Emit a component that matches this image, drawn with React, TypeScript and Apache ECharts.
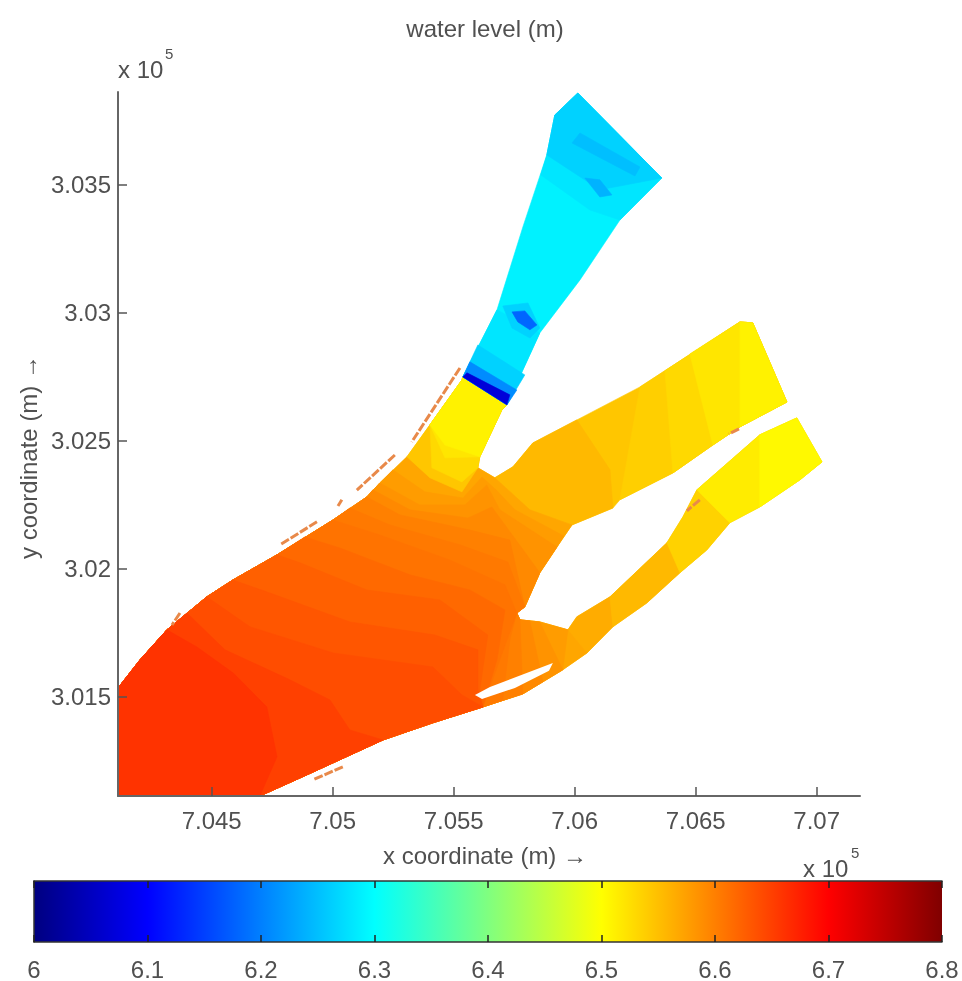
import React, { useEffect, useRef } from "react";
import * as echarts from "echarts";

const X_MIN = 704113;
const X_MAX = 707179;
const Y_MIN = 301113;
const Y_MAX = 303863;
const xTicks = [704500, 705000, 705500, 706000, 706500, 707000];
const yTicks = [301500, 302000, 302500, 303000, 303500];
const colorbarTicks = [6, 6.1, 6.2, 6.3, 6.4, 6.5, 6.6, 6.7, 6.8];
const colorbarRange = [6, 6.8];
const jetOffsets = [0, 0.125, 0.375, 0.625, 0.875, 1];
const jetColors = ["#000080", "#0000ff", "#00ffff", "#ffff00", "#ff0000", "#800000"];

// Wet-domain outline (x, y in metres)
const ring: number[][] = [
  [704113, 301113], [704113, 301535], [704204, 301645], [704315, 301762], [704480, 301891], [704588, 301957],
  [704770, 302055], [705001, 302191], [705141, 302281], [705195, 302336], [705307, 302438], [705402, 302563],
  [705534, 302738], [705538, 302750], [705679, 303012], [705786, 303336], [705885, 303617], [705918, 303773],
  [706013, 303859], [706360, 303527], [706187, 303363], [706022, 303129], [705856, 302922], [705720, 302641],
  [705699, 302621], [705608, 302438], [705600, 302395], [705670, 302356], [705745, 302399], [705827, 302492],
  [706009, 302582], [706270, 302711], [706683, 302965], [706736, 302961], [706877, 302652], [706683, 302555],
  [706571, 302484], [706406, 302375], [706187, 302270], [706158, 302238], [705989, 302172], [705927, 302086],
  [705856, 301985], [705794, 301852], [705761, 301828], [705774, 301801], [705856, 301793], [705972, 301762],
  [706009, 301813], [706146, 301891], [706381, 302102], [706447, 302203], [706505, 302309], [706765, 302524],
  [706918, 302590], [707022, 302418], [706931, 302348], [706765, 302242], [706641, 302180], [706546, 302074],
  [706435, 301985], [706298, 301867], [706158, 301774], [706051, 301672], [705951, 301606], [705786, 301512],
  [705621, 301461], [705414, 301399], [705208, 301332], [704894, 301196], [704699, 301113],
];

// Water-level zones, painted in order. Item [a, b] with a < 1000 is a span of the ring; otherwise a free point.
const zoneLevels = [
  6.545, 6.29,
  6.555, 6.5375, 6.53, 6.52, 6.51,
  6.565, 6.555, 6.535, 6.515, 6.505,
  6.57, 6.5775, 6.585, 6.5925, 6.6, 6.605, 6.61, 6.6175, 6.625, 6.6325, 6.64, 6.65, 6.66,
  6.545, 6.53, 6.52, 6.51,
  6.28, 6.28, 6.265, 6.25, 6.24, 6.265, 6.21, 6.07, 6.265, 6.18,
];
const zonePaths: number[][][] = [
  [[0, 13], [23, 70]],
  [[13, 23]],
  // upper arm
  [[27, 30], [706146, 302387], [39, 40], [705815, 302231]],
  [[31, 38]],
  [[706373, 302774], [32, 37]],
  [[706476, 302840], [32, 36]],
  [[32, 35]],
  // lower arm
  [[47, 49], [62, 63]],
  [[49, 50], [60, 62]],
  [[50, 52], [58, 60]],
  [[52, 58]],
  [[53, 57]],
  // delta, nested towards the south-west corner
  [[63, 10], [705402, 302356], [705534, 302301], [26, 27], [705815, 302231], [40, 47]],
  [[64, 9], [705249, 302387], [705381, 302301], [705538, 302277], [705617, 302359], [705675, 302309], [705753, 302231], [705955, 302129], [41, 47]],
  [[64, 9], [705360, 302250], [705546, 302250], [705637, 302328], [705691, 302231], [41, 46]],
  [[705869, 301559], [65, 8], [705166, 302309], [705319, 302231], [705559, 302199], [705658, 302242], [705712, 302172], [42, 45], [705815, 301797]],
  [[65, 8], [705278, 302211], [705567, 302152], [705732, 302113], [43, 45]],
  [[705703, 301488], [66, 7], [705071, 302238], [705236, 302172], [705526, 302094], [705724, 302027], [43, 44], [705732, 301723]],
  [[66, 7], [705195, 302133], [705484, 302035], [705712, 301938], [44, 44], [705691, 301645]],
  [[66, 6], [704885, 302125], [705030, 302082], [705319, 301977], [705567, 301918], [705712, 301840], [705679, 301645]],
  [[66, 6], [704865, 302024], [705141, 301918], [705443, 301879], [705641, 301742], [705608, 301528]],
  [[66, 5], [704761, 301899], [705071, 301793], [705422, 301742], [705600, 301684], [705600, 301528]],
  [[66, 4], [704658, 301774], [705001, 301672], [705414, 301617], [705534, 301508]],
  [[68, 3], [704398, 301828], [704555, 301684], [704823, 301567], [704989, 301488], [705071, 301371]],
  [[70, 3], [704439, 301695], [704588, 301594], [704728, 301461], [704770, 301266]],
  // throat
  [[10, 13], [23, 26], [705534, 302301], [705402, 302356]],
  [[11, 13], [23, 26], [705534, 302340], [705410, 302395]],
  [[11, 13], [23, 25], [705464, 302434]],
  [[11, 13], [23, 25], [705464, 302484]],
  // blue channel
  [[13, 14], [22, 23]],
  [[16, 20], [706063, 303402], [705860, 303539]],
  [[16, 19], [706104, 303481]],
  [[706022, 303703], [706270, 303570], [706249, 303535], [705989, 303664]],
  [[706042, 303527], [706104, 303520], [706154, 303461], [706104, 303453]],
  [[13, 13], [705600, 302875], [705794, 302758], [23, 23]],
  [[13, 13], [705567, 302809], [705761, 302699], [23, 23]],
  [[13, 13], [705555, 302766], [705732, 302680], [23, 23]],
  [[705703, 303027], [705807, 303039], [705856, 302941], [705815, 302902], [705741, 302941]],
  [[705741, 303004], [705794, 303008], [705844, 302953], [705815, 302934], [705765, 302965]],
];

// Dry island near the south shore
const island: number[][] = [
  [705588, 301508], [705650, 301539], [705910, 301633], [705894, 301602], [705753, 301535], [705617, 301492],
];

// Isolated wet cells along the shores: x1, y1, x2, y2
const slivers: number[][] = [
  [705526, 302785, 705327, 302496],
  [705257, 302445, 705100, 302308],
  [705038, 302270, 705022, 302246],
  [704935, 302184, 704782, 302094],
  [704369, 301828, 704336, 301781],
  [705042, 301227, 704918, 301176],
  [706679, 302547, 706637, 302527],
  [706517, 302270, 706464, 302227],
];

const expand = (path: number[][]) => {
  const out: number[][] = [];
  path.forEach(([a, b]) => {
    if (a > 1000) out.push([a, b]);
    else if (a <= b) out.push(...ring.slice(a, b + 1));
    else out.push(...ring.slice(a), ...ring.slice(0, b + 1));
  });
  return out;
};

const jet = (level: number) => {
  const t = (level - colorbarRange[0]) / (colorbarRange[1] - colorbarRange[0]);
  for (let i = 0; i < jetOffsets.length - 1; i++) {
    if (t <= jetOffsets[i + 1]) {
      const k = (t - jetOffsets[i]) / (jetOffsets[i + 1] - jetOffsets[i]);
      return echarts.color.lerp(k, [jetColors[i], jetColors[i + 1]]) as string;
    }
  }
  return jetColors[jetColors.length - 1];
};

const FONT = "'Liberation Sans', Arial, sans-serif";
const TEXT = "#505050";
const FS = 24;

const zonePolys = zonePaths.map(expand);

export default function App() {
  const ref = useRef<HTMLDivElement>(null);
  useEffect(() => {
    const chart = echarts.init(ref.current!, undefined, { renderer: "svg" });
    chart.setOption({
      animation: false,
      backgroundColor: "#fff",
      title: {
        text: "water level (m)",
        left: 480,
        top: 11,
        textAlign: "center",
        textStyle: { fontFamily: FONT, fontSize: FS, fontWeight: "normal", color: TEXT },
      },
      grid: [
        { left: 118, top: 92, width: 742, height: 704 },
        { left: 34, top: 881, width: 908, height: 65 },
      ],
      xAxis: [
        {
          type: "value", gridIndex: 0, min: X_MIN, max: X_MAX, z: 10,
          name: "x coordinate (m) →", nameLocation: "middle", nameGap: 47,
          nameTextStyle: { fontFamily: FONT, fontSize: 24, color: TEXT, padding: [0, 8, 0, 0] },
          splitLine: { show: false },
          axisLine: { show: true, lineStyle: { color: "#666", width: 2 } },
          axisTick: { show: true, inside: true, length: 9, customValues: xTicks, lineStyle: { color: "#555", width: 1.5 } },
          axisLabel: {
            customValues: xTicks, margin: 12, fontFamily: FONT, fontSize: FS, color: TEXT,
            formatter: (v: number) => String(parseFloat((v / 1e5).toFixed(3))),
          },
        },
        {
          type: "value", gridIndex: 1, min: colorbarRange[0], max: colorbarRange[1], z: 10,
          splitLine: { show: false },
          axisLine: { show: true, lineStyle: { color: "#333", width: 1.5 } },
          axisTick: { show: true, inside: true, length: 7, customValues: colorbarTicks, lineStyle: { color: "#222", width: 1.5 } },
          axisLabel: {
            customValues: colorbarTicks, margin: 15, fontFamily: FONT, fontSize: FS, color: TEXT,
            formatter: (v: number) => String(parseFloat(v.toFixed(1))),
          },
        },
        {
          type: "value", gridIndex: 1, position: "top", min: colorbarRange[0], max: colorbarRange[1], z: 10,
          splitLine: { show: false },
          axisLine: { show: true, lineStyle: { color: "#333", width: 1.5 } },
          axisTick: { show: true, inside: true, length: 7, customValues: colorbarTicks, lineStyle: { color: "#222", width: 1.5 } },
          axisLabel: { show: false },
        },
      ],
      yAxis: [
        {
          type: "value", gridIndex: 0, min: Y_MIN, max: Y_MAX, z: 10,
          name: "y coordinate (m) →", nameLocation: "middle", nameGap: 78, nameRotate: 90,
          nameTextStyle: { fontFamily: FONT, fontSize: 24, color: TEXT, padding: [0, 26, 0, 0] },
          splitLine: { show: false },
          axisLine: { show: true, lineStyle: { color: "#666", width: 2 } },
          axisTick: { show: true, inside: true, length: 9, customValues: yTicks, lineStyle: { color: "#555", width: 1.5 } },
          axisLabel: {
            customValues: yTicks, margin: 7, fontFamily: FONT, fontSize: FS, color: TEXT,
            formatter: (v: number) => String(parseFloat((v / 1e5).toFixed(3))),
          },
        },
        {
          type: "value", gridIndex: 1, min: 0, max: 1, z: 10,
          splitLine: { show: false },
          axisLine: { show: true, lineStyle: { color: "#333", width: 1.5 } },
          axisTick: { show: false },
          axisLabel: { show: false },
        },
      ],
      graphic: [
        { type: "text", x: 118, y: 57, style: { text: "x 10", fontFamily: FONT, fontSize: 24, fill: TEXT } },
        { type: "text", x: 165, y: 46, style: { text: "5", fontFamily: FONT, fontSize: 15, fill: TEXT } },
        { type: "text", x: 803, y: 856, style: { text: "x 10", fontFamily: FONT, fontSize: 24, fill: TEXT } },
        { type: "text", x: 851, y: 845, style: { text: "5", fontFamily: FONT, fontSize: 15, fill: TEXT } },
      ],
      series: [
        {
          type: "custom", xAxisIndex: 0, yAxisIndex: 0, clip: true, z: 2,
          data: zonePolys.map((p, i) => [p[0][0], p[0][1], zoneLevels[i]]),
          encode: { x: 0, y: 1 },
          renderItem: (params: any, api: any) => {
            const fill = jet(zoneLevels[params.dataIndex]);
            return {
              type: "polygon",
              shape: { points: zonePolys[params.dataIndex].map((p) => api.coord(p)) },
              style: { fill, stroke: fill, lineWidth: 0.6 },
            };
          },
        },
        {
          type: "custom", xAxisIndex: 0, yAxisIndex: 0, clip: true, z: 3,
          data: slivers.map((s) => [s[0], s[1], s[2], s[3]]),
          encode: { x: [0, 2], y: [1, 3] },
          renderItem: (params: any, api: any) => {
            const s = slivers[params.dataIndex];
            const a = api.coord([s[0], s[1]]);
            const b = api.coord([s[2], s[3]]);
            return {
              type: "line",
              shape: { x1: a[0], y1: a[1], x2: b[0], y2: b[1] },
              style: { stroke: "#e8894a", lineWidth: 3, lineDash: [9, 2] },
            };
          },
        },
        {
          type: "custom", xAxisIndex: 0, yAxisIndex: 0, clip: true, z: 3,
          data: [[island[0][0], island[0][1]]],
          encode: { x: 0, y: 1 },
          renderItem: (_p: any, api: any) => ({
            type: "polygon",
            shape: { points: island.map((p) => api.coord(p)) },
            style: { fill: "#fff" },
          }),
        },
        {
          type: "custom", xAxisIndex: 1, yAxisIndex: 1, z: 2,
          data: [[colorbarRange[0], 0, colorbarRange[1], 1]],
          encode: { x: [0, 2], y: [1, 3] },
          renderItem: (_p: any, api: any) => {
            const a = api.coord([api.value(0), api.value(3)]);
            const b = api.coord([api.value(2), api.value(1)]);
            return {
              type: "rect",
              shape: { x: a[0], y: a[1], width: b[0] - a[0], height: b[1] - a[1] },
              style: {
                fill: new echarts.graphic.LinearGradient(0, 0, 1, 0,
                  jetOffsets.map((offset, i) => ({ offset, color: jetColors[i] }))),
              },
            };
          },
        },
      ],
    });
    return () => chart.dispose();
  }, []);
  return (
    <div
      ref={ref}
      style={{ position: "absolute", left: 0, top: 0, width: 962, height: 981, filter: "blur(0.7px)" }}
    />
  );
}
